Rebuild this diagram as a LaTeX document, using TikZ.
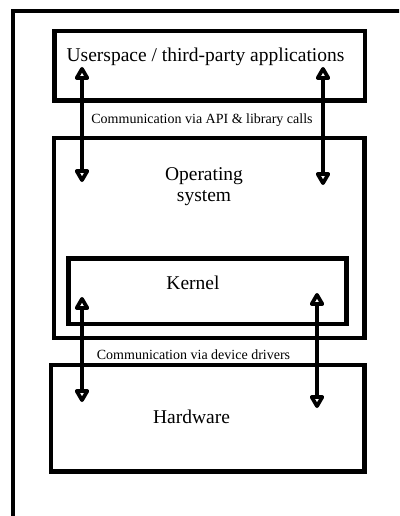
\documentclass[tikz,border=0pt]{standalone}
\usepackage{fontspec}
\setmainfont{Liberation Serif}
\usetikzlibrary{arrows.meta}
\tikzset{
  box/.style={draw=black, line width=4.3pt, rectangle, inner sep=0pt},
  bigtxt/.style={font=\fontsize{19.5}{21}\selectfont, inner sep=0pt, align=center},
  smalltxt/.style={font=\fontsize{14}{16}\selectfont, inner sep=0pt},
  tiptri/.tip={Triangle[open,round,length=15pt,width=16pt,line width=4pt]},
  link/.style={line width=4pt, tiptri-tiptri}
}
\begin{document}
\begin{tikzpicture}[x=1pt,y=-1pt]
\useasboundingbox (0,0) rectangle (399,516);
\begin{scope}
\clip (0,0) rectangle (399,516);
\draw[line width=4pt] (13,11) rectangle (420,517.5);
\end{scope}
\node[box, minimum width=310.5pt, minimum height=69.5pt] (user) at (209.75,65.75) {};
\node[box, minimum width=310.5pt, minimum height=200pt] (os) at (209.25,238) {};
\node[box, minimum width=278pt, minimum height=65.5pt] (kernel) at (207.5,291.25) {};
\node[box, minimum width=313.5pt, minimum height=106.5pt] (hw) at (207.75,418.25) {};
\node[bigtxt] (usertxt) at (205.5,57) {Userspace / third-party applications};
\node[bigtxt] (ostxt) at (204,187) {Operating\\system};
\node[bigtxt] (kerneltxt) at (193,283) {Kernel};
\node[bigtxt] (hwtxt) at (191.5,417) {Hardware};
\node[smalltxt] (apitxt) at (202,120) {Communication via API \& library calls};
\node[smalltxt] (drvtxt) at (193.5,355) {Communication via device drivers};
\coordinate (a1t) at (82,67);
\coordinate (a1b) at (82,182);
\coordinate (a2t) at (323,67);
\coordinate (a2b) at (323,185);
\coordinate (a3t) at (82,297);
\coordinate (a3b) at (82,402);
\coordinate (a4t) at (317,293);
\coordinate (a4b) at (317,408);
\draw[link] (a1t) -- (a1b);
\draw[link] (a2t) -- (a2b);
\draw[link] (a3t) -- (a3b);
\draw[link] (a4t) -- (a4b);
\end{tikzpicture}
\end{document}
